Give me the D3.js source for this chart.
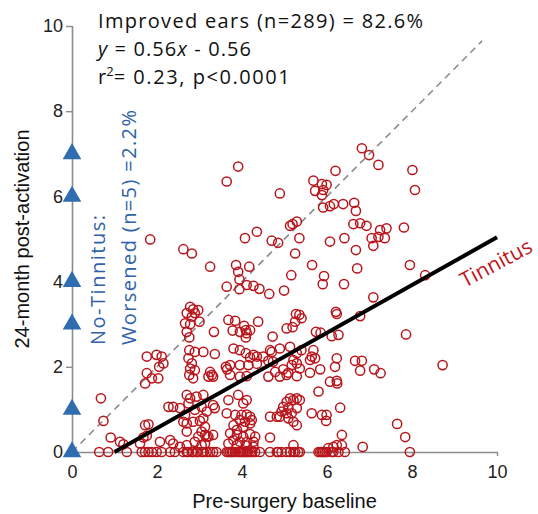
<!DOCTYPE html>
<html>
<head>
<meta charset="utf-8">
<script src="https://cdn.jsdelivr.net/npm/d3@7"></script>
<style>
  html, body { margin: 0; padding: 0; background: #fff; }
  svg { display: block; }
</style>
</head>
<body>
<svg id="chart" width="538" height="514"></svg>
<script>
// Tinnitus loudness: pre-surgery baseline vs 24-month post-activation score

const xTicks = [0, 2, 4, 6, 8, 10];
const yTicks = [0, 2, 4, 6, 8, 10];

// Ears without tinnitus before surgery (baseline 0) whose rating rose afterwards
const noTinnitusPost = [0, 1, 3, 4, 6, 7];

// Ears with tinnitus: [baseline, 24-month]
const tinnitusEars = [
  [6.82,7.13],[6.99,6.97],[7.21,6.74],[3.91,6.70],[3.64,6.35],[6.20,6.60],[8.01,6.62],[8.07,6.15],
  [5.68,6.37],[5.88,6.29],[5.99,6.27],[5.91,6.15],[5.72,6.13],[5.88,6.03],[4.89,6.07],[5.91,5.74],
  [6.07,5.77],[6.16,5.82],[6.38,5.82],[6.64,5.85],[6.68,5.66],[5.13,5.31],[5.19,5.35],[5.29,5.41],
  [6.62,5.35],[6.78,5.37],[6.93,5.31],[7.25,5.21],[7.40,5.25],[7.05,5.02],[7.21,5.05],[7.36,5.02],
  [7.09,4.84],[7.81,5.27],[4.07,5.02],[4.35,5.17],[4.70,4.96],[4.85,4.91],[5.35,5.02],[6.07,4.94],
  [6.41,5.02],[6.68,4.74],[5.25,4.66],[2.62,4.76],[2.82,4.66],[1.84,4.99],[3.25,4.35],[3.86,4.39],
  [4.17,4.35],[3.91,4.23],[3.94,4.05],[3.64,3.88],[3.94,3.82],[4.11,3.92],[4.27,3.90],[4.41,3.83],
  [4.64,3.71],[4.99,3.79],[5.16,4.15],[5.65,4.39],[5.93,4.13],[5.90,3.94],[6.40,3.94],[6.71,4.31],
  [7.95,4.39],[8.31,4.15],[7.09,3.63],
  [2.78,3.41],[2.85,3.35],[2.97,3.33],[2.89,3.26],[2.70,3.26],[2.82,3.18],[3.00,3.06],[2.66,3.02],
  [2.78,3.00],[2.70,2.82],[2.76,2.69],[3.34,2.82],[3.68,3.10],[3.84,3.08],[3.78,2.85],[4.05,2.96],
  [4.09,2.86],[4.11,2.79],[3.95,2.82],[4.19,2.86],[4.38,3.06],[4.09,2.69],[4.72,2.71],[5.05,2.90],
  [5.19,2.93],[5.27,3.24],[5.35,3.22],[5.40,3.14],[5.25,3.06],[5.74,2.82],[5.85,2.80],[6.27,2.75],
  [6.21,3.29],[6.23,3.24],[6.78,3.19],[7.86,2.76],[6.11,2.72],
  [1.76,2.24],[1.99,2.28],[2.11,2.24],[2.15,2.08],[2.05,2.00],[1.76,1.85],[1.88,1.73],[2.03,1.73],
  [1.72,1.61],[2.76,2.39],[2.89,2.35],[3.09,2.35],[3.36,2.30],[2.74,2.20],[2.82,2.08],[2.78,1.96],
  [2.89,1.92],[2.76,1.81],[2.85,1.73],[3.25,1.88],[3.29,1.81],[3.32,1.77],[3.21,1.77],[3.62,2.00],
  [3.65,1.94],[3.72,2.04],[3.80,2.43],[3.95,2.39],[4.09,2.32],[4.27,2.28],[4.19,2.22],[4.35,2.24],
  [3.95,2.04],[4.15,2.04],[4.35,2.07],[4.50,2.24],[4.62,2.14],[3.72,1.81],[3.95,1.77],[4.11,1.78],
  [4.66,2.39],[4.89,2.43],[5.13,2.47],[5.29,2.32],[5.40,2.39],[5.21,2.16],[5.29,2.08],[5.17,2.04],
  [5.36,1.96],[5.60,2.16],[5.68,2.39],[5.64,2.24],[5.05,1.81],[5.29,1.78],[4.62,1.77],[4.89,1.77],
  [5.72,2.20],[6.23,2.20],[6.19,2.00],[6.66,2.14],[6.82,2.14],[6.78,1.91],[7.11,1.94],[7.26,1.85],
  [8.72,2.04],[5.60,1.86],[5.84,1.94],[6.07,1.65],[6.23,1.67],[6.24,1.61],[4.70,2.35],[4.73,2.12],
  [4.78,1.88],[4.97,1.94],[5.09,1.86],
  [0.68,1.26],[0.74,0.73],[0.91,0.34],[1.13,0.24],[1.21,0.18],[2.27,1.06],[2.38,1.06],[2.70,1.34],
  [2.93,1.30],[2.74,1.14],[2.54,1.03],[2.89,0.99],[3.05,1.06],[2.62,0.71],[2.70,0.67],[2.85,0.71],
  [3.01,0.73],[1.72,0.63],[1.80,0.65],[1.68,0.34],[1.76,0.38],[1.60,0.20],[2.07,0.24],[2.38,0.20],
  [2.54,0.12],[2.70,0.16],[2.89,0.24],[2.97,0.36],[3.13,0.40],[3.05,0.16],[3.68,1.22],[3.91,1.34],
  [4.11,1.22],[3.32,1.10],[3.36,1.03],[3.17,0.95],[3.64,0.91],[3.84,0.87],[3.99,0.87],[4.11,0.88],
  [4.19,0.83],[3.95,0.75],[4.07,0.71],[4.23,0.75],[3.80,0.63],[4.03,0.59],[3.09,0.79],[3.13,0.59],
  [3.05,0.48],[3.17,0.36],[3.13,0.20],[3.72,0.44],[3.88,0.40],[4.03,0.36],[4.19,0.42],[4.31,0.36],
  [3.80,0.28],[3.95,0.24],[4.11,0.23],[4.27,0.24],[3.68,0.20],[3.88,0.16],[4.11,0.15],[4.27,0.12],
  [4.66,0.34],[5.05,1.18],[5.21,1.22],[5.36,1.22],[5.09,1.03],[5.29,1.03],[4.93,0.95],[5.05,0.91],
  [5.17,0.91],[4.89,0.83],[5.09,0.79],[5.21,0.71],[5.29,0.63],[4.82,0.83],[5.64,0.91],[5.80,1.42],
  [5.88,0.87],[5.99,0.87],[5.98,0.73],[6.31,1.04],[6.35,0.40],[6.23,0.16],[6.35,0.16],[6.15,0.12],
  [6.03,0.09],[6.84,0.12],[7.65,0.66],[7.84,0.35],[5.21,0.16],[3.09,1.34],[5.13,1.26],[5.29,1.26],
  [4.97,1.06],[2.31,0.28],[2.78,1.26],[2.66,0.87],[2.70,0.48],[3.32,0.40],[3.21,0.36],[4.03,1.14],
  [3.88,0.52],[4.19,0.67],[4.66,0.83]
];

// Ears with tinnitus that rated 0 at 24 months (baseline values)
const silencedBaselines = [
  0.64,0.85,1.29,1.64,1.72,1.80,1.88,1.99,2.11,2.31,2.42,2.62,2.70,2.82,2.93,3.09,3.17,3.32,3.40,
  3.68,3.76,3.84,3.91,3.99,4.11,4.19,4.31,4.42,4.66,4.85,5.05,5.21,5.36,5.80,5.91,5.99,6.15,6.27,
  6.42,7.95,3.05,3.64,4.03,4.82,5.13,5.25,5.32,5.88,4.93,5.84,5.95,6.11,2.73,2.85,2.96,3.25,3.72,
  3.79,3.95,4.07,4.14,4.24
];

// Linear fit y = 0.56x - 0.56 and identity reference
const fitSlope = 0.56;
const fitIntercept = -0.56;
const fitRange = [1, 10];
const identityRange = [0, 9.65];

const svg = d3.select("#chart");
const plotLeft = 72, plotRight = 497, plotTop = 26, plotBottom = 452;

const x = d3.scaleLinear().domain([0, 10]).range([plotLeft, plotRight]);
const y = d3.scaleLinear().domain([0, 10]).range([plotBottom, plotTop]);

const axisColor = "#8c8c8c";
const labelFont = "'Liberation Sans', Arial, sans-serif";
const noteFont = "'Open Sans', 'Noto Sans', sans-serif";

// Axes
const xAxis = svg.append("g").attr("transform", `translate(0,${plotBottom})`)
  .call(d3.axisBottom(x).tickValues(xTicks).tickSize(4).tickPadding(9).tickFormat(d3.format("d")));
const yAxis = svg.append("g").attr("transform", `translate(${plotLeft},0)`)
  .call(d3.axisLeft(y).tickValues(yTicks).tickSize(6).tickPadding(3).tickFormat(d3.format("d")));
[xAxis, yAxis].forEach(g => {
  g.select(".domain").attr("stroke", axisColor).attr("stroke-width", 1.6);
  g.selectAll(".tick line").attr("stroke", axisColor).attr("stroke-width", 1.4);
  g.selectAll(".tick text").attr("fill", "#222").style("font-family", labelFont).style("font-size", "18px");
});
xAxis.select(".domain").attr("d", `M${plotLeft},0.5H${plotRight + 1}`);
yAxis.select(".domain").attr("d", `M0.5,${plotTop}V${plotBottom}`);

// Identity line
svg.append("line")
  .attr("x1", x(identityRange[0])).attr("y1", y(identityRange[0]))
  .attr("x2", x(identityRange[1])).attr("y2", y(identityRange[1]))
  .attr("stroke", "#8a8a8a").attr("stroke-width", 1.6).attr("stroke-dasharray", "7,5");

// Tinnitus ears
const allEars = tinnitusEars.concat(silencedBaselines.map(b => [b, 0]));
svg.append("g").selectAll("circle").data(allEars).join("circle")
  .attr("cx", d => x(d[0])).attr("cy", d => y(d[1])).attr("r", 4.6)
  .attr("fill", "none").attr("stroke", "#b8161c").attr("stroke-width", 1.5);

// Fit line
svg.append("line")
  .attr("x1", x(fitRange[0])).attr("y1", y(fitSlope * fitRange[0] + fitIntercept))
  .attr("x2", x(fitRange[1])).attr("y2", y(fitSlope * fitRange[1] + fitIntercept))
  .attr("stroke", "#000").attr("stroke-width", 4);

// No-tinnitus ears that worsened
svg.append("g").selectAll("path").data(noTinnitusPost).join("path")
  .attr("transform", d => `translate(${x(0)},${y(d)})`)
  .attr("d", d3.symbol(d3.symbolTriangle, 150))
  .attr("fill", "#2f6db0");

// Axis titles
svg.append("text").attr("x", x(5)).attr("y", 508).attr("text-anchor", "middle")
  .style("font-family", labelFont).style("font-size", "20px").attr("fill", "#111")
  .text("Pre-surgery baseline");
svg.append("text").attr("transform", `translate(29,${y(5)}) rotate(-90)`).attr("text-anchor", "middle")
  .style("font-family", labelFont).style("font-size", "20px").attr("fill", "#111")
  .text("24-month post-activation");

// Summary notes
const notes = svg.append("g").style("font-family", noteFont).style("font-size", "20px").attr("fill", "#111");
notes.append("text").attr("x", 98).attr("y", 28)
  .attr("textLength", 325).attr("lengthAdjust", "spacing")
  .text("Improved ears (n=289) = 82.6%");
const eq = notes.append("text").attr("x", 98).attr("y", 56)
  .attr("textLength", 153).attr("lengthAdjust", "spacing");
eq.append("tspan").style("font-style", "italic").text("y");
eq.append("tspan").text(" = 0.56");
eq.append("tspan").style("font-style", "italic").text("x");
eq.append("tspan").text(" - 0.56");
const r2 = notes.append("text").attr("x", 98).attr("y", 84);
r2.append("tspan").text("r");
r2.append("tspan").attr("dy", -8).style("font-size", "13px").text("2");
r2.append("tspan").attr("dy", 8).attr("textLength", 176).attr("lengthAdjust", "spacing")
  .text("= 0.23, p<0.0001");

// Worsened no-tinnitus note
const blue = svg.append("g").style("font-family", noteFont).style("font-size", "20px").attr("fill", "#2f62a8");
blue.append("text").attr("transform", "translate(105,345) rotate(-90)")
  .attr("textLength", 130).attr("lengthAdjust", "spacing").text("No-Tinnitus:");
blue.append("text").attr("transform", "translate(136,345) rotate(-90)")
  .attr("textLength", 235).attr("lengthAdjust", "spacing").text("Worsened (n=5) =2.2%");

// Group label along the fit line
svg.append("text").attr("transform", "translate(496,263) rotate(-28)").attr("text-anchor", "middle")
  .attr("dy", "0.35em").style("font-family", noteFont).style("font-size", "21px").attr("fill", "#c0141c")
  .text("Tinnitus");
</script>
</body>
</html>
